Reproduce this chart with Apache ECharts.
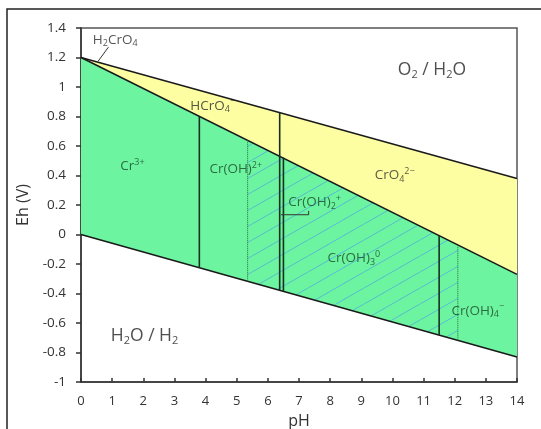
<!DOCTYPE html>
<html>
<head>
<meta charset="utf-8">
<script src="https://cdn.jsdelivr.net/npm/echarts@6/dist/echarts.min.js"></script>
<style>
  html, body { margin: 0; padding: 0; background: #fff; }
  #chart { width: 541px; height: 429px; }
</style>
</head>
<body>
<div id="chart"></div>
<script>
// Eh-pH diagram of chromium
var xRange = [0, 14];
var yRange = [-1, 1.4];

// boundary lines (pH, Eh)
var waterUpper = [[0, 1.2], [14, 0.38]];
var crBoundary = [[0, 1.2], [14, -0.27]];
var waterLower = [[0, 0], [14, -0.83]];

// vertical boundaries
var solidVerticals = [
  [[3.8, -0.225], [3.8, 0.8]],
  [[6.38, -0.378], [6.38, 0.826]],
  [[6.5, -0.385], [6.5, 0.52]],
  [[11.5, -0.682], [11.5, -0.007]]
];
var dottedVerticals = [
  [[5.35, -0.317], [5.35, 0.638]],
  [[12.1, -0.717], [12.1, -0.07]]
];

// hatched zone Cr(OH)3 (precipitate)
var hatchZone = [[5.35, 0.638], [12.1, -0.07], [12.1, -0.717], [5.35, -0.317]];

// arrows
var arrows = [
  [[0.88, 1.27], [0.55, 1.175]],
  [[7.31, 0.16], [7.31, 0.134], [6.42, 0.134]]
];

// species labels
var labelNames = [
  'H{b|2}CrO{b|4}', 'HCrO{b|4}{p|−}', '{big|O}{bb|2}{big| / H}{bb|2}{big|O}', 'Cr{p|3+}',
  'Cr(OH){p|2+}', 'CrO{b|4}{p|2−}', 'Cr(OH){b|2}{p|+}', 'Cr(OH){b|3}{p|0}',
  'Cr(OH){b|4}{p|−}', '{big|H}{bb|2}{big|O / H}{bb|2}'
];
var labelPos = [
  [1.1, 1.32], [4.23, 0.873], [11.27, 1.117], [1.65, 0.46],
  [4.97, 0.44], [10.07, 0.40], [7.5, 0.216], [8.76, -0.163],
  [12.74, -0.517], [2.04, -0.685]
];
var labelColors = ['#2a2a2a', '#2a2a2a', '#222', '#1c4a28', '#1c4a28', '#33332a', '#1c4a28', '#1c4a28', '#1c4a28', '#222'];

var chart = echarts.init(document.getElementById('chart'));

// hatch pattern tile
var tile = document.createElement('canvas');
tile.width = 28; tile.height = 16;
var tc = tile.getContext('2d');
tc.strokeStyle = 'rgba(80,170,225,0.75)';
tc.lineWidth = 1;
[[0, 0], [28, -16], [-28, 16]].forEach(function (o) {
  tc.beginPath();
  tc.moveTo(o[0], 16 + o[1]);
  tc.lineTo(28 + o[0], o[1]);
  tc.stroke();
});

function polygonSeries(points, fill, z) {
  return {
    type: 'custom',
    z: z,
    silent: true,
    data: [0],
    renderItem: function (params, api) {
      return {
        type: 'polygon',
        shape: { points: points.map(function (p) { return api.coord(p); }) },
        style: { fill: fill, stroke: 'none' }
      };
    }
  };
}

function lineSeries(pts, color, width, type, z) {
  return {
    type: 'line',
    z: z,
    data: pts,
    symbol: 'none',
    silent: true,
    animation: false,
    lineStyle: { color: color, width: width, type: type }
  };
}

var series = [];
series.push(polygonSeries(waterUpper.concat(crBoundary.slice().reverse()), '#fdfda2', 1));
series.push(polygonSeries(crBoundary.concat(waterLower.slice().reverse()), '#6cf4a0', 1));
series.push(polygonSeries(hatchZone, { image: tile, repeat: 'repeat' }, 2));
series.push(lineSeries(waterUpper, '#1a1a1a', 1.5, 'solid', 5));
series.push(lineSeries(crBoundary, '#1a1a1a', 1.5, 'solid', 5));
series.push(lineSeries(waterLower, '#1a1a1a', 1.5, 'solid', 5));
solidVerticals.forEach(function (v) { series.push(lineSeries(v, '#163020', 1.6, 'solid', 5)); });
dottedVerticals.forEach(function (v) { series.push(lineSeries(v, '#2a6a40', 1, 'dotted', 5)); });
series.push({
  type: 'lines',
  coordinateSystem: 'cartesian2d',
  polyline: true,
  z: 6,
  silent: true,
  symbol: ['none', 'arrow'],
  symbolSize: 6,
  lineStyle: { color: '#333', width: 1, opacity: 1 },
  data: arrows.map(function (a) { return { coords: a }; })
});
series.push({
  type: 'scatter',
  z: 7,
  silent: true,
  symbolSize: 0,
  data: labelPos.map(function (p, i) {
    return {
      value: p,
      label: { formatter: labelNames[i], color: labelColors[i] }
    };
  }),
  label: {
    show: true,
    position: 'inside',
    fontFamily: 'Open Sans',
    fontSize: 13.5,
    lineHeight: 17,
    rich: {
      b: { fontSize: 9, lineHeight: 10, verticalAlign: 'bottom' },
      p: { fontSize: 9, lineHeight: 10, verticalAlign: 'top' },
      big: { fontSize: 17.5, lineHeight: 22 },
      bb: { fontSize: 11, lineHeight: 12, verticalAlign: 'bottom' }
    }
  }
});

chart.setOption({
  animation: false,
  grid: {
    left: 81, right: 24, top: 28, bottom: 47,
    outerBoundsMode: 'none',
    containLabel: false,
    show: true, borderColor: '#555', borderWidth: 1.5
  },
  xAxis: {
    type: 'value',
    min: xRange[0], max: xRange[1], interval: 1,
    name: 'pH', nameLocation: 'middle', nameGap: 31,
    nameTextStyle: { fontFamily: 'Open Sans', fontSize: 16, color: '#333' },
    axisLine: { onZero: false, lineStyle: { color: '#333', width: 1.5 } },
    axisTick: { inside: true, length: 4, lineStyle: { color: '#333', width: 1.5 } },
    axisLabel: { fontFamily: 'Open Sans', fontSize: 13, color: '#333', margin: 13 },
    splitLine: { show: false }
  },
  yAxis: {
    type: 'value',
    min: yRange[0], max: yRange[1], interval: 0.2,
    name: 'Eh (V)', nameLocation: 'middle', nameGap: 50,
    nameTextStyle: { fontFamily: 'Open Sans', fontSize: 16, color: '#333' },
    axisLine: { onZero: false, lineStyle: { color: '#333', width: 1.5 } },
    axisTick: { length: 5, lineStyle: { color: '#333', width: 1.5 } },
    axisLabel: {
      fontFamily: 'Open Sans', fontSize: 13.5, color: '#333', margin: 15,
      formatter: function (v) { return String(+v.toFixed(1)); }
    },
    splitLine: { show: false }
  },
  graphic: [{
    type: 'rect',
    shape: { x: 7, y: 9, width: 600, height: 500 },
    style: { fill: 'none', stroke: '#222', lineWidth: 1.5 },
    silent: true
  }],
  series: series
});
</script>
</body>
</html>
